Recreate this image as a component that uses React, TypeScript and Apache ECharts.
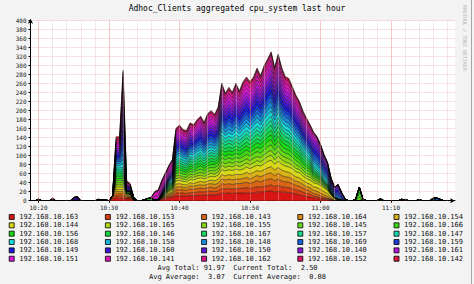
import { useEffect, useRef } from 'react';
import * as echarts from 'echarts';

const MONO = '"DejaVu Sans Mono", monospace';
const TITLE = 'Adhoc_Clients aggregated cpu_system last hour';

const hosts = [
  '192.168.10.163', '192.168.10.153', '192.168.10.143', '192.168.10.164', '192.168.10.154',
  '192.168.10.144', '192.168.10.165', '192.168.10.155', '192.168.10.145', '192.168.10.166',
  '192.168.10.156', '192.168.10.146', '192.168.10.167', '192.168.10.157', '192.168.10.147',
  '192.168.10.168', '192.168.10.158', '192.168.10.148', '192.168.10.169', '192.168.10.159',
  '192.168.10.149', '192.168.10.160', '192.168.10.150', '192.168.10.140', '192.168.10.161',
  '192.168.10.151', '192.168.10.141', '192.168.10.162', '192.168.10.152', '192.168.10.142',
];

const colors = [
  '#d91616', '#d93d16', '#d96416', '#d98b16', '#d9b216',
  '#d9d916', '#b2d916', '#8bd916', '#64d916', '#3dd916',
  '#16d916', '#16d93d', '#16d964', '#16d98b', '#16d9b2',
  '#16d9d9', '#16b2d9', '#168bd9', '#1664d9', '#163dd9',
  '#1616d9', '#3d16d9', '#6416d9', '#8b16d9', '#b216d9',
  '#d916d9', '#d916b2', '#d9168b', '#d91664', '#d9163d',
];

// time slots: 10:19:00 + 30 s * slot (minutes past 10:00)
const START_MINUTE = 19;
const STEP_MINUTES = 0.5;
const SLOTS = 121;
const WINDOW_START = 23; // slot of the first value in each host array below

const h163 = [4, 6,5,5,4,4,2, 0,0,0,0,0, 1,1,3,4,6,8, 11,11,11,10,11,11,12,12,12,13, 13,13,14,17,16,17,16,17,17,17, 18,17,18,19,19,20,21,22,19,21, 19,19,18,17,15,13,11,9,8, 6,5,4,3,2,1,0,0,0,0];
const h153 = [3, 5,5,5,2,2,0, 0,0,0,0,0, 0,0,1,2,3,3, 6,6,6,6,7,7,7,8,7,8, 8,7,8,10,10,10,10,10,10,11, 11,10,11,12,11,12,12,13,12,13, 12,11,11,10,9,9,8,7,7, 4,4,3,2,2,1,0,0,0,0];
const h143 = [2, 5,5,5,2,2,0, 0,0,0,0,0, 0,0,2,2,3,3, 7,7,7,7,8,7,8,8,8,8, 9,8,9,11,10,11,10,11,11,11, 12,11,12,13,12,13,14,14,13,14, 13,12,12,11,10,10,9,8,7, 6,5,4,3,2,1,0,0,0,0];
const h164 = [2, 5,5,5,2,1,0, 0,0,0,0,0, 0,0,1,2,3,3, 6,7,6,6,7,7,7,7,7,8, 8,8,8,10,10,10,10,10,10,10, 11,10,11,12,11,12,13,13,12,13, 12,11,11,10,9,9,8,7,7, 7,7,6,5,4,2,1,0,0,0];
const h154 = [0, 5,5,5,2,2,0, 0,0,0,0,0, 0,0,0,1,2,3, 7,7,6,6,7,6,7,8,7,7, 8,8,9,10,9,10,10,11,10,10, 11,11,11,11,12,12,13,14,12,13, 12,12,11,11,10,10,9,9,8, 8,8,8,7,6,3,2,1,0,0];
const h144 = [0, 5,5,5,3,3,0, 0,0,0,0,0, 0,0,1,2,3,4, 7,7,7,7,7,8,8,8,7,8, 8,9,9,11,11,11,11,11,10,11, 12,12,12,12,12,13,14,14,13,14, 13,12,12,12,11,11,10,9,9, 9,9,9,8,7,4,3,2,1,0];
const h165 = [0, 5,5,5,0,0,0, 0,0,0,0,0, 0,0,0,1,2,2, 5,6,5,5,6,6,6,6,6,6, 7,6,7,9,8,8,8,9,8,9, 9,9,9,10,9,10,11,11,10,11, 10,9,9,8,8,7,7,6,6, 5,4,4,3,2,1,0,0,0,0];
const h155 = [0, 4,5,5,0,0,0, 0,0,0,0,0, 0,0,0,1,2,2, 6,5,5,5,6,5,6,6,6,7, 6,7,7,8,8,9,8,8,9,9, 9,9,10,9,10,10,10,11,10,11, 9,10,9,9,8,7,6,6,6, 4,4,3,2,2,1,0,0,0,0];
const h145 = [0, 5,5,5,2,2,0, 0,0,0,0,0, 0,0,1,1,2,3, 6,6,6,6,6,6,7,7,6,7, 7,7,8,9,9,9,9,9,9,10, 10,10,10,11,10,11,12,12,11,12, 11,10,10,9,9,8,7,7,6, 4,4,3,2,2,1,0,0,0,0];
const h166 = [0, 5,4,5,0,0,0, 0,0,0,1,0, 0,0,0,1,2,2, 5,6,6,5,6,5,6,7,6,6, 7,7,7,9,8,8,9,9,8,9, 10,9,9,10,10,10,11,12,10,11, 10,9,9,9,8,8,7,6,6, 4,3,3,2,2,1,0,0,0,0];
const h156 = [0, 5,5,5,3,3,3, 0,0,2,4,3, 0,1,2,2,2,2, 6,6,5,5,6,6,6,6,5,6, 7,6,7,9,9,8,8,9,9,9, 9,8,10,10,9,10,10,11,10,11, 10,10,9,8,8,7,6,6,5, 4,3,3,2,2,1,0,0,0,0];
const h146 = [0, 4,5,5,0,0,0, 0,0,0,0,2, 0,0,0,1,2,2, 5,5,5,5,5,5,5,6,5,6, 6,6,6,8,7,8,7,8,7,8, 8,8,8,9,8,9,9,10,9,10, 9,8,8,8,7,7,6,6,5, 3,3,2,2,1,1,0,0,0,0];
const h167 = [0, 5,4,5,1,1,0, 0,0,0,0,0, 0,0,1,1,2,2, 5,5,5,5,6,6,7,6,6,7, 7,6,7,9,8,9,8,9,8,9, 10,9,9,10,9,11,11,11,10,11, 10,9,10,8,8,7,7,6,5, 4,3,3,2,2,1,0,0,0,0];
const h157 = [0, 5,5,5,0,0,0, 0,0,0,0,0, 0,0,0,1,2,2, 4,5,5,4,5,5,6,6,5,6, 6,6,7,8,7,7,7,8,8,8, 8,8,9,9,8,9,10,10,9,10, 9,8,8,7,7,7,6,5,5, 4,4,3,3,2,1,0,0,0,0];
const h147 = [0, 4,5,4,0,0,0, 0,0,0,0,0, 0,0,0,1,2,2, 5,5,5,5,5,5,5,6,6,6, 6,5,6,8,7,8,8,8,7,8, 9,8,8,9,9,9,9,10,9,10, 8,8,8,8,7,6,6,6,5, 5,5,4,3,3,2,1,1,0,0];
const h168 = [0, 5,5,9,1,0,0, 0,0,0,0,0, 0,0,1,2,2,4, 5,6,5,5,6,6,6,6,6,6, 6,6,7,9,8,8,8,9,8,9, 9,9,10,10,9,10,11,11,10,11, 10,9,9,8,8,7,7,6,6, 6,6,5,4,3,2,1,1,0,0];
const h158 = [0, 5,4,10,0,0,0, 0,0,0,0,0, 0,0,0,1,2,2, 5,5,5,5,5,6,5,6,5,6, 6,6,6,8,7,8,7,8,8,8, 8,8,8,9,8,9,10,10,9,10, 9,9,8,8,7,7,6,6,5, 5,5,5,4,4,2,2,2,0,0];
const h148 = [0, 5,5,11,0,0,0, 0,0,0,0,0, 0,0,1,2,2,4, 5,6,5,5,6,6,6,6,6,7, 7,6,7,9,8,9,8,9,8,9, 9,9,9,10,10,10,11,11,10,11, 10,9,9,8,8,7,7,6,6, 6,6,6,5,4,2,2,3,2,0];
const h169 = [0, 4,5,16,2,2,0, 0,0,0,0,0, 0,0,0,1,2,2, 5,5,5,5,5,5,6,6,5,6, 6,6,6,8,7,8,7,8,7,8, 9,8,8,9,9,9,9,10,9,10, 9,8,9,8,7,7,6,6,5, 7,7,6,5,4,3,3,4,2,0];
const h159 = [0, 5,5,18,0,0,0, 0,0,0,0,0, 0,0,0,1,2,2, 5,5,5,5,5,5,5,6,5,6, 6,6,6,8,7,8,7,8,7,8, 8,8,8,9,8,9,9,10,9,10, 9,8,8,8,7,7,6,6,5, 6,6,6,5,5,3,3,4,3,1];
const h149 = [0, 5,5,18,3,3,0, 0,0,0,0,0, 0,0,2,2,2,2, 4,5,5,5,5,5,6,6,5,6, 6,6,7,8,7,8,8,8,7,8, 8,8,8,9,8,9,10,10,9,10, 9,8,8,7,7,7,6,6,5, 6,6,6,5,5,3,3,4,3,1];
const h160 = [0, 5,4,18,4,3,3, 0,0,0,0,0, 0,0,0,2,2,2, 5,5,5,5,6,5,5,6,6,6, 6,6,6,8,8,7,7,8,8,8, 8,8,9,9,8,9,9,10,9,9, 9,9,8,8,7,6,6,5,5, 6,6,5,5,4,3,3,4,3,1];
const h150 = [0, 5,5,18,0,0,0, 0,0,0,0,0, 0,0,2,3,3,4, 5,5,5,5,5,5,6,5,5,6, 6,6,7,8,7,8,7,8,7,8, 8,9,8,9,8,9,9,10,8,10, 9,8,8,8,7,7,6,6,6, 7,7,6,5,4,3,3,4,2,1];
const h140 = [0, 4,5,16,4,3,0, 0,0,0,0,0, 0,0,3,3,3,4, 5,5,4,5,5,5,5,6,5,6, 6,6,6,8,7,7,7,8,7,8, 8,8,8,9,9,9,9,10,9,10, 9,8,8,8,7,7,6,6,5, 7,7,6,5,4,3,2,3,2,0];
const h161 = [0, 5,5,15,0,0,0, 0,0,0,0,0, 2,3,5,5,5,6, 6,6,5,5,6,6,6,6,6,6, 7,6,7,9,8,8,8,9,8,9, 9,9,9,10,9,10,10,11,10,11, 10,9,9,8,8,7,7,6,6, 6,5,5,4,3,2,1,2,0,0];
const h151 = [0, 5,5,20,4,3,0, 0,0,0,0,0, 6,7,7,6,5,5, 5,5,5,5,5,5,5,6,5,6, 6,6,6,8,7,8,7,8,7,8, 8,8,8,9,8,9,9,10,9,10, 9,8,8,8,7,7,6,6,5, 5,4,3,3,2,1,0,1,0,0];
const h141 = [0, 4,4,18,3,2,0, 0,0,0,0,3, 8,9,9,7,6,7, 6,6,5,5,6,6,6,6,6,7, 7,6,7,9,8,8,8,9,8,9, 10,9,9,10,9,10,11,11,10,11, 10,9,9,8,8,7,7,6,6, 4,3,2,2,1,1,0,0,0,0];
const h162 = [0, 4,4,14,0,0,0, 0,0,0,0,0, 3,3,3,3,3,3, 5,6,5,5,6,5,6,6,6,6, 7,6,7,9,8,8,8,8,8,9, 9,9,9,10,9,10,11,12,10,11, 10,9,9,8,8,7,6,6,6, 3,2,2,1,1,0,0,0,0,0];
const h152 = [0, 4,4,10,0,0,0, 0,0,0,0,0, 0,0,0,0,1,1, 2,2,2,2,2,2,2,2,2,3, 3,3,3,3,3,3,3,3,3,3, 4,3,4,4,4,4,4,4,4,4, 4,4,4,3,3,3,3,2,2, 1,1,0,0,0,0,0,0,0,0];
const h142 = [0, 4,4,5,3,2,0, 0,0,0,0,0, 0,0,0,0,0,1, 2,2,2,2,2,2,2,2,2,2, 2,2,2,3,2,3,2,3,2,3, 3,3,3,3,3,3,3,3,3,3, 3,3,3,3,2,2,2,2,2, 1,0,0,0,0,0,0,0,0,0];

const hostValues = [
  h163, h153, h143, h164, h154, h144, h165, h155, h145, h166,
  h156, h146, h167, h157, h147, h168, h158, h148, h169, h159,
  h149, h160, h150, h140, h161, h151, h141, h162, h152, h142,
];

// isolated small bumps outside the window: [host index, slot, value]
const smallBumps: [number, number, number][] = [
  [1, 2, 2], [0, 2, 1], [29, 6, 5], [0, 6, 2], [20, 12, 3], [22, 12, 4], [20, 13, 4], [22, 13, 5],
  [20, 19, 3], [21, 20, 2], [21, 21, 2], [10, 92, 4], [8, 93, 8], [9, 93, 10], [10, 93, 12],
  [10, 94, 3], [4, 94, 2], [5, 99, 4], [0, 105, 2], [10, 105, 1], [2, 106, 2], [11, 110, 2],
  [17, 114, 4], [10, 114, 2], [18, 115, 6], [17, 116, 3],
];

const xLabelMinutes = [20, 30, 40, 50, 60, 70];
const xMinorMinutes = [22, 24, 26, 28, 32, 34, 36, 38, 42, 44, 46, 48, 52, 54, 56, 58, 62, 64, 66, 68, 72, 74, 76, 78];

const avgTotal = 91.97;
const currentTotal = 2.5;
const avgAverage = 3.07;
const currentAverage = 0.08;

const X_MIN = 18.865;
const X_MAX = 79.08;

function fmtTime(v: number) {
  const h = 10 + Math.floor(v / 60);
  const m = Math.round(v % 60);
  return `${h}:${m < 10 ? '0' + m : m}`;
}

function f6(v: number) {
  return v.toFixed(2).padStart(6, '\u00a0');
}

function buildOption() {
  const series: any[] = hosts.map((name, k) => {
    const arr = new Array(SLOTS).fill(0);
    hostValues[k].forEach((v, j) => { arr[WINDOW_START + j] = v; });
    smallBumps.filter((b) => b[0] === k).forEach((b) => { arr[b[1]] += b[2]; });
    return {
      name,
      type: 'line',
      stack: 'total',
      symbol: 'none',
      showSymbol: false,
      z: 3,
      color: colors[k],
      itemStyle: { color: colors[k] },
      lineStyle: { color: '#000', width: 0.5 },
      areaStyle: { color: colors[k], opacity: 1 },
      emphasis: { disabled: true },
      // value first so that the stack is computed on the value dimension
      encode: { x: 1, y: 0 },
      data: arr.map((v, i) => [v, START_MINUTE + i * STEP_MINUTES]),
    };
  });

  series.push({
    type: 'line',
    z: 1,
    silent: true,
    symbol: 'none',
    lineStyle: { opacity: 0 },
    data: [[X_MIN, 0]],
    markLine: {
      silent: true,
      symbol: ['none', 'none'],
      label: { show: false },
      emphasis: { disabled: true },
      data: [
        ...xMinorMinutes.map((v) => ({ xAxis: v, lineStyle: { color: 'rgba(225,185,185,0.35)', width: 1, type: 'solid' } })),
        ...xLabelMinutes.map((v) => ({ xAxis: v, lineStyle: { color: 'rgba(235,130,130,0.45)', width: 1, type: 'solid' } })),
      ],
    },
  });

  const legends = [0, 1, 2, 3, 4].map((c) => ({
    orient: 'vertical',
    left: 8.8 + 96.2 * c,
    top: 212.8,
    padding: 0,
    itemGap: 0,
    itemWidth: 5,
    itemHeight: 5,
    icon: 'rect',
    selectedMode: false,
    data: [0, 1, 2, 3, 4, 5].map((r) => hosts[r * 5 + c]),
    textStyle: { fontFamily: MONO, fontSize: 7, color: '#111', lineHeight: 8.35 },
    itemStyle: { borderColor: '#000', borderWidth: 0.8 },
  }));

  return {
    animation: false,
    backgroundColor: 'transparent',
    grid: { left: 30.5, right: 19, top: 20.7, bottom: 83.3, show: true, backgroundColor: '#ffffff', borderWidth: 0 },
    xAxis: {
      type: 'value',
      min: X_MIN,
      max: X_MAX,
      axisLine: { show: true, lineStyle: { color: '#000', width: 1 }, symbol: ['none', 'arrow'], symbolSize: [4, 5], symbolOffset: [0, 0] },
      axisTick: { show: true, customValues: xLabelMinutes, length: 2, lineStyle: { color: '#000' } },
      axisLabel: { customValues: xLabelMinutes, formatter: (v: number) => fmtTime(v), fontFamily: MONO, fontSize: 6, color: '#222', margin: 4 },
      splitLine: { show: false },
    },
    yAxis: {
      type: 'value',
      min: 0,
      max: 400,
      interval: 20,
      axisLine: { show: true, lineStyle: { color: '#000', width: 1 }, symbol: ['none', 'arrow'], symbolSize: [4, 5], symbolOffset: [0, 2] },
      axisTick: { show: true, length: 2, lineStyle: { color: '#000' } },
      axisLabel: { fontFamily: MONO, fontSize: 6, color: '#222', margin: 4 },
      splitLine: { show: true, lineStyle: { color: 'rgba(230,160,160,0.3)', width: 1 } },
    },
    legend: legends,
    series,
    graphic: [
      { type: 'text', x: 237, y: 8.3, silent: true, style: { text: TITLE, align: 'center', verticalAlign: 'middle', fontFamily: MONO, fontSize: 8, fill: '#000' } },
      { type: 'text', x: 237.5, y: 268.3, silent: true, style: { text: `Avg Total:${f6(avgTotal)}\u00a0\u00a0Current Total:${f6(currentTotal)}`, align: 'center', verticalAlign: 'middle', fontFamily: MONO, fontSize: 7, fill: '#111' } },
      { type: 'text', x: 237.5, y: 276.7, silent: true, style: { text: `Avg Average:${f6(avgAverage)}\u00a0\u00a0Current Average:${f6(currentAverage)}`, align: 'center', verticalAlign: 'middle', fontFamily: MONO, fontSize: 7, fill: '#111' } },
      { type: 'text', x: 464.5, y: 38, rotation: -Math.PI / 2, silent: true, style: { text: 'RRDTOOL / TOBI OETIKER', align: 'center', verticalAlign: 'middle', fontFamily: MONO, fontSize: 5, fill: '#b4b4b4' } },
      { type: 'line', silent: true, shape: { x1: 471.5, y1: 0, x2: 471.5, y2: 284 }, style: { stroke: '#a6a6a6', lineWidth: 1 } },
    ],
  };
}

export default function App() {
  const ref = useRef<HTMLDivElement>(null);
  useEffect(() => {
    if (!ref.current) return;
    const chart = echarts.init(ref.current, null, { renderer: 'svg' });
    chart.setOption(buildOption() as any);
    return () => chart.dispose();
  }, []);
  return (
    <div style={{ position: 'fixed', left: 0, top: 0, width: 474, height: 284, background: '#f3f3f3' }}>
      <div ref={ref} style={{ width: 474, height: 284 }} />
    </div>
  );
}
